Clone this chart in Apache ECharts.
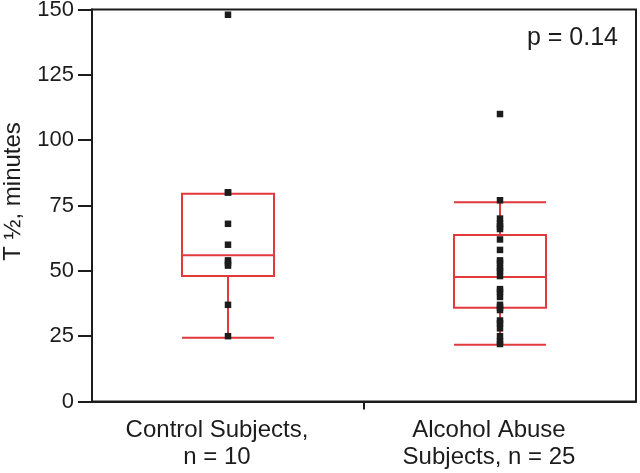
<!DOCTYPE html>
<html>
<head>
<meta charset="utf-8">
<script src="https://cdn.jsdelivr.net/npm/echarts@6/dist/echarts.min.js"></script>
<style>
  html, body { margin: 0; padding: 0; background: #fff; }
  #chart { width: 640px; height: 473px; }
</style>
</head>
<body>
<div id="chart"></div>
<script>
// groups on the x axis
const groups = ['Control Subjects,\nn = 10', 'Alcohol Abuse\nSubjects, n = 25'];

// box stats: [low whisker, Q1, median, Q3, high whisker]
const controlBox = [24.4, 48, 56, 79.5, 79.5];
const alcoholBox = [21.7, 35.9, 47.6, 63.7, 76.2];

// individual subjects (T 1/2 in minutes)
const controlPoints = [25, 37, 52, 53, 54, 60, 68, 80, 80, 148];
const alcoholPoints = [22, 23, 25, 28, 30, 31, 35, 36, 37, 40, 42, 43, 48, 50, 51, 53, 54,
  58, 62, 66, 67, 68, 70, 77, 110];

const yTicks = { min: 0, max: 150, step: 25 };
const pText = 'p = 0.14';

const red = '#e2393d';
const ink = '#1c1c1c';

const scatterData = [];
controlPoints.forEach(v => scatterData.push([0, v]));
alcoholPoints.forEach(v => scatterData.push([1, v]));

const chart = echarts.init(document.getElementById('chart'));

const option = {
  animation: false,
  textStyle: { fontFamily: 'Liberation Sans, Arial, sans-serif' },
  title: {
    text: pText,
    right: 17,
    top: 21,
    textStyle: { fontSize: 25, fontWeight: 'normal', color: ink, fontFamily: 'Liberation Sans, Arial, sans-serif' }
  },
  grid: {
    left: 92, right: 4, top: 9.5, bottom: 71.5,
    outerBoundsMode: 'none',
    containLabel: false,
    show: true, borderColor: ink, borderWidth: 2
  },
  xAxis: [{
    type: 'category',
    data: groups,
    boundaryGap: true,
    axisLine: { show: true, lineStyle: { color: ink, width: 2 } },
    axisTick: { show: false },
    axisLabel: {
      color: ink, fontSize: 24, lineHeight: 27, margin: 15, align: 'center',
      padding: [0, 22, 0, 0]
    }
  }, {
    type: 'value',
    position: 'bottom',
    min: 0, max: 2, interval: 1,
    axisLine: { show: false },
    splitLine: { show: false },
    axisLabel: { show: false },
    axisTick: { show: true, length: 8, customValues: [1], lineStyle: { color: ink, width: 2 } }
  }],
  yAxis: {
    type: 'value',
    min: yTicks.min, max: yTicks.max, interval: yTicks.step,
    name: 'T \u00BD, minutes',
    nameLocation: 'middle',
    nameGap: 67,
    nameTextStyle: { fontSize: 24, color: ink, padding: [0, 0, 0, 28] },
    axisLine: { show: true, lineStyle: { color: ink, width: 2 } },
    axisTick: { show: true, inside: false, length: 14, lineStyle: { color: ink, width: 2 } },
    splitLine: { show: false },
    axisLabel: { color: ink, fontSize: 22, margin: 18 }
  },
  series: [{
    type: 'boxplot',
    xAxisIndex: 0,
    data: [controlBox, alcoholBox],
    boxWidth: [92, 92],
    itemStyle: { color: 'transparent', borderColor: red, borderWidth: 2 },
    silent: true
  }, {
    type: 'scatter',
    xAxisIndex: 0,
    data: scatterData,
    symbol: 'rect',
    symbolSize: 6.5,
    itemStyle: { color: ink, opacity: 1 },
    z: 5
  }]
};

chart.setOption(option);
</script>
</body>
</html>
